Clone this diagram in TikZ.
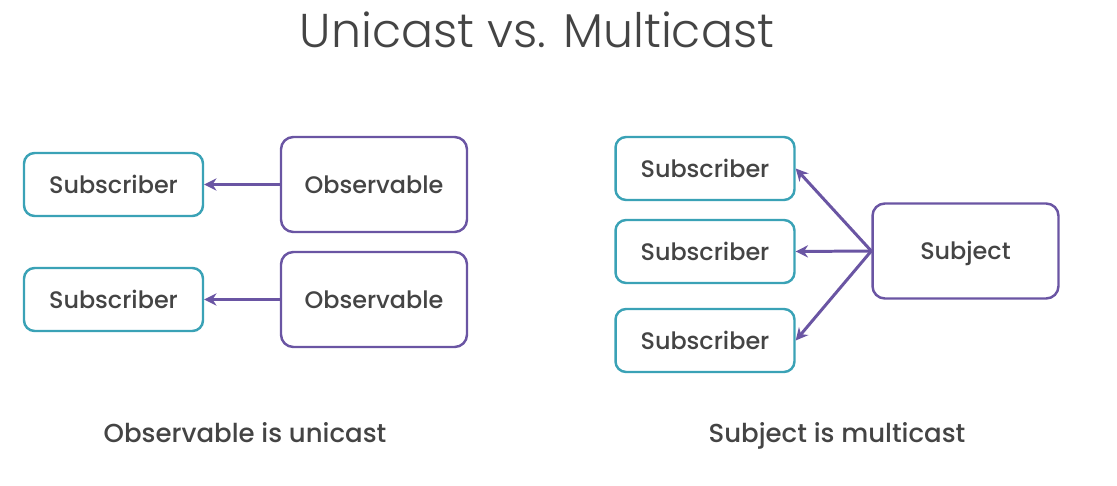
\documentclass[tikz,border=0pt]{standalone}
\usepackage{fontspec}
\setmainfont{Poppins}
\newfontfamily\titlefont{Poppins Light}
\newfontfamily\boxfont{Poppins Medium}
\usetikzlibrary{arrows.meta}
\definecolor{subcol}{HTML}{3AA2B6}
\definecolor{obscol}{HTML}{6A55A3}
\definecolor{txtcol}{HTML}{444444}

\begin{document}
\begin{tikzpicture}[x=0.02cm,y=-0.02cm]
\tikzset{
  every node/.style={text=txtcol, font=\boxfont\fontsize{13.6}{16}\selectfont, text height=1.8ex, text depth=0pt},
  subbox/.style={draw=subcol, line width=1.4pt, rounded corners=6pt, minimum width=3.58cm, minimum height=1.26cm},
  obsbox/.style={draw=obscol, line width=1.4pt, rounded corners=7pt, minimum width=3.72cm, minimum height=1.9cm},
  caption/.style={font=\boxfont\fontsize{14.8}{17}\selectfont},
  feed/.style={draw=obscol, line width=1.7pt, -{Stealth[length=7pt,width=7pt]}}
}
\useasboundingbox (0,0) rectangle (1117,486);
\node [text height=, text depth=] (title) at (537,30) {\titlefont\fontsize{27}{30}\selectfont Unicast vs. Multicast};
% unicast side
\node [subbox] (sub1) at (113.5,184.5) {Subscriber};
\node [subbox] (sub2) at (113.5,299.5) {Subscriber};
\node [obsbox] (obs1) at (374,184.5) {Observable};
\node [obsbox] (obs2) at (374,299.5) {Observable};
\draw [feed] (obs1) -- (sub1);
\draw [feed] (obs2) -- (sub2);
\node [caption] (lblunicast) at (245,434) {Observable is unicast};
% multicast side
\node [subbox] (msub1) at (705,168.5) {Subscriber};
\node [subbox] (msub2) at (705,251.5) {Subscriber};
\node [subbox] (msub3) at (705,340.5) {Subscriber};
\node [obsbox] (subject) at (965.5,251) {Subject};
\draw [feed] (subject.west) -- (msub1.east);
\draw [feed] (subject.west) -- (msub2.east);
\draw [feed] (subject.west) -- (msub3.east);
\node [caption] (lblmulticast) at (837,434) {Subject is multicast};
\end{tikzpicture}
\end{document}
